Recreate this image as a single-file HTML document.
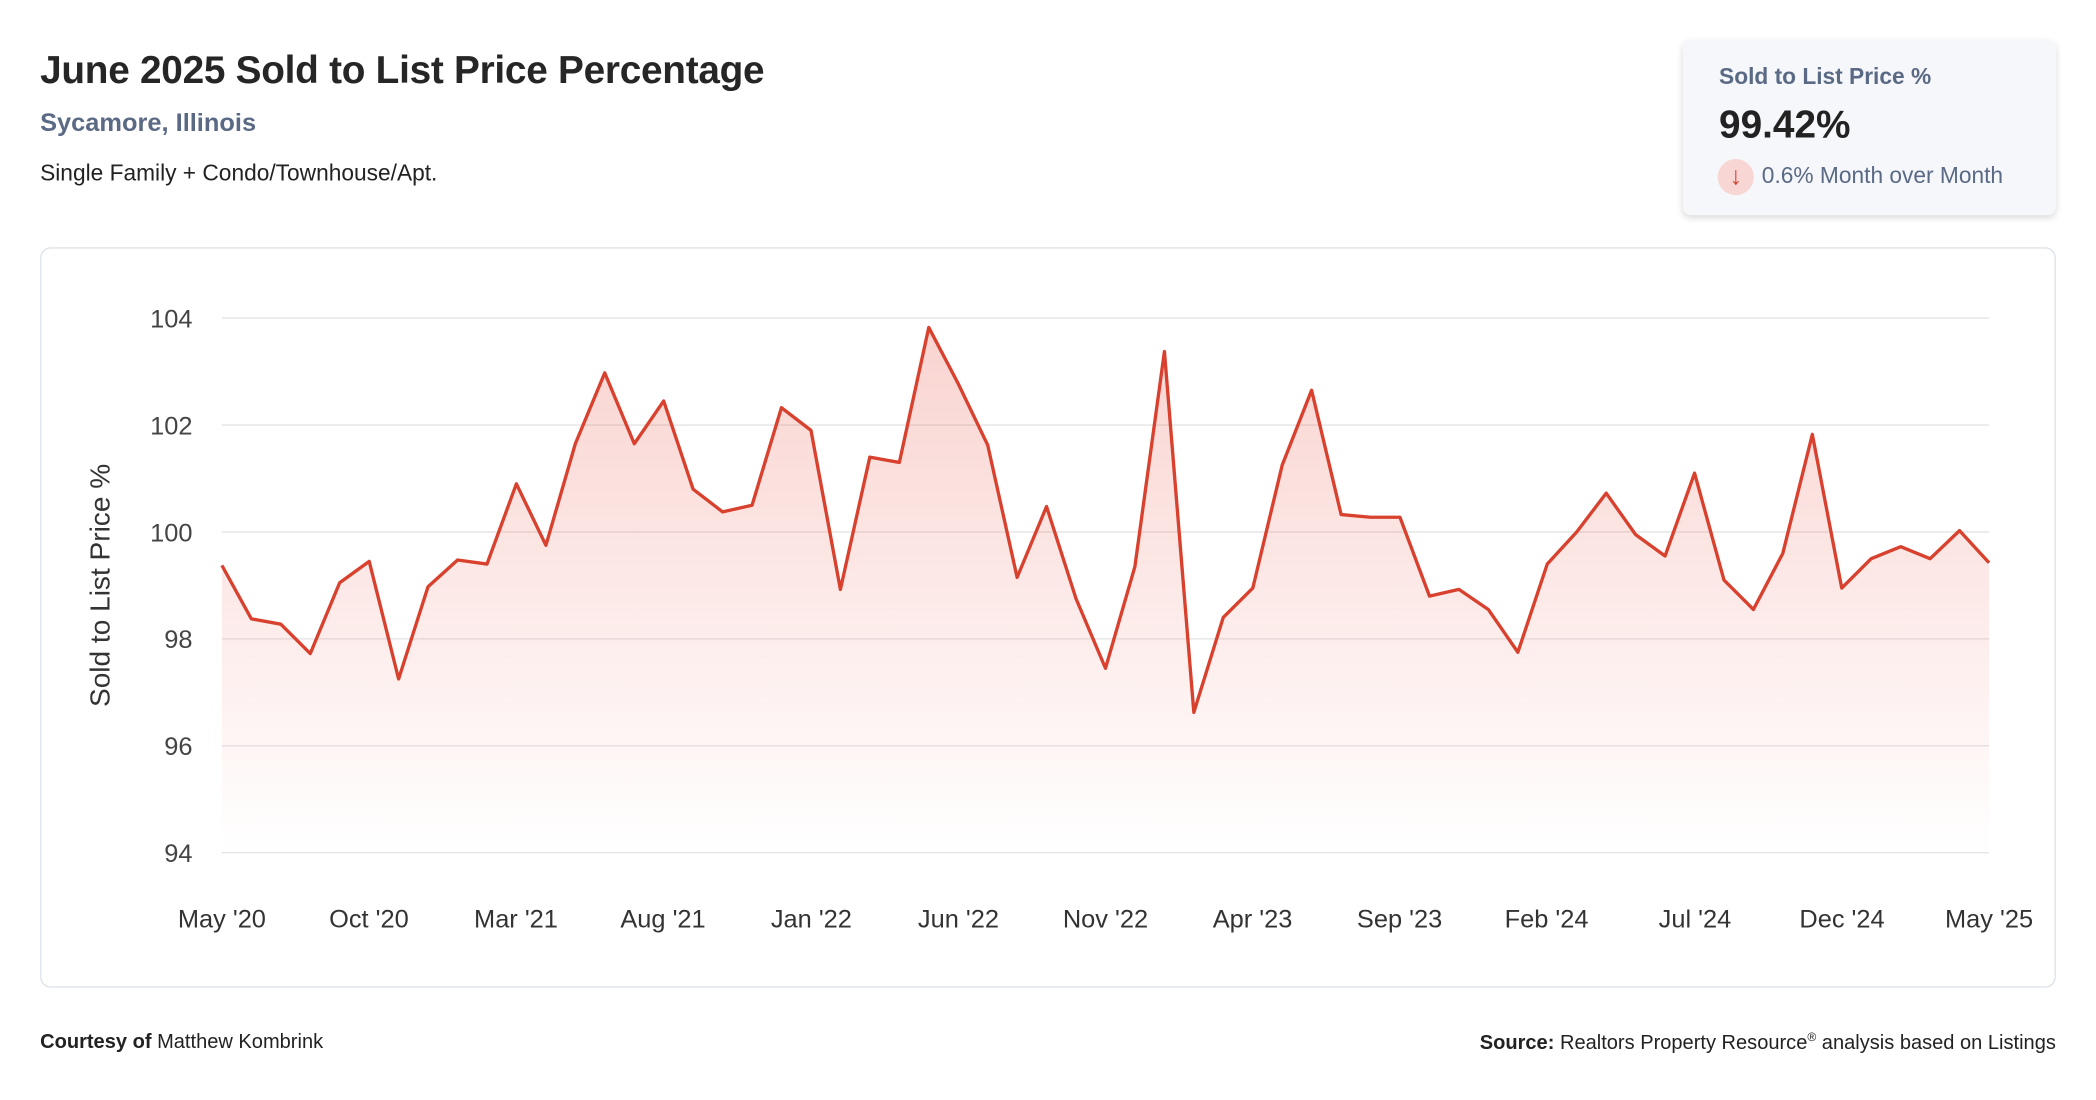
<!DOCTYPE html>
<html><head><meta charset="utf-8"><style>
html,body{margin:0;padding:0;background:#fff;width:2096px;height:1100px;overflow:hidden}
#w{position:absolute;left:0;top:0;width:1568px;height:823px;transform:scale(1.33673,1.33657);transform-origin:0 0;font-family:"Liberation Sans",sans-serif;color:#222}
.a{position:absolute;white-space:nowrap}
</style></head><body><div id="w">
<div class="a" style="left:30px;top:37px;font-size:29px;font-weight:bold;color:#262626;letter-spacing:-0.2px">June 2025 Sold to List Price Percentage</div>
<div class="a" style="left:30px;top:82px;font-size:19px;font-weight:bold;color:#5a6a85">Sycamore, Illinois</div>
<div class="a" style="left:30px;top:120px;font-size:17px;color:#222">Single Family + Condo/Townhouse/Apt.</div>
<div class="a" style="left:1259px;top:30px;width:279px;height:131px;background:#f5f7fa;border-radius:6px;box-shadow:0 2px 5px rgba(0,0,0,.15)">
<div class="a" style="left:27px;top:18px;font-size:17px;font-weight:bold;color:#5a6a85">Sold to List Price %</div>
<div class="a" style="left:27px;top:48px;font-size:29px;font-weight:bold;color:#222">99.42%</div>
<div class="a" style="left:26px;top:89px;width:27px;height:27px;border-radius:50%;background:#f7d6d3;color:#d9412f;font-size:19px;text-align:center;line-height:27px">↓</div>
<div class="a" style="left:59px;top:92px;font-size:17px;color:#5a6a85">0.6% Month over Month</div>
</div>
<div class="a" style="left:30px;top:185px;width:1506px;height:552px;border:1px solid #dde3ea;border-radius:8px"></div>
<svg class="a" style="left:0;top:0" width="1568" height="823" font-family="Liberation Sans, sans-serif">
<defs><linearGradient id="g" gradientUnits="userSpaceOnUse" x1="0" y1="245" x2="0" y2="638"><stop offset="0" stop-color="#e8584a" stop-opacity="0.26"/><stop offset="1" stop-color="#e8584a" stop-opacity="0"/></linearGradient></defs>
<g stroke="#e3e3e3" stroke-width="1">
<line x1="166" x2="1488" y1="238" y2="238"/><line x1="166" x2="1488" y1="318" y2="318"/><line x1="166" x2="1488" y1="398" y2="398"/><line x1="166" x2="1488" y1="478" y2="478"/><line x1="166" x2="1488" y1="558" y2="558"/><line x1="166" x2="1488" y1="638" y2="638"/></g>
<g font-size="19" fill="#444" text-anchor="end">
<text x="144" y="245">104</text><text x="144" y="325">102</text><text x="144" y="405">100</text><text x="144" y="485">98</text><text x="144" y="565">96</text><text x="144" y="645">94</text></g>
<text transform="translate(82,438) rotate(-90)" font-size="21" fill="#333" text-anchor="middle">Sold to List Price %</text>
<g font-size="19" fill="#333" text-anchor="middle">
<text x="166" y="694">May '20</text><text x="276" y="694">Oct '20</text><text x="386" y="694">Mar '21</text><text x="496" y="694">Aug '21</text><text x="607" y="694">Jan '22</text><text x="717" y="694">Jun '22</text><text x="827" y="694">Nov '22</text><text x="937" y="694">Apr '23</text><text x="1047" y="694">Sep '23</text><text x="1157" y="694">Feb '24</text><text x="1268" y="694">Jul '24</text><text x="1378" y="694">Dec '24</text><text x="1488" y="694">May '25</text></g>
<path id="p" fill="url(#g)" stroke="none" d=""/>
<path id="l" fill="none" stroke="#d9412f" stroke-width="2.5" stroke-linejoin="round" d=""/>
</svg>
<div class="a" style="left:30px;top:771px;font-size:15px;color:#222"><b>Courtesy of</b> Matthew Kombrink</div>
<div class="a" style="right:30px;top:771px;font-size:15px;color:#222"><b>Source:</b> Realtors Property Resource<sup style="font-size:9px">®</sup> analysis based on Listings</div>
</div>
<script>
var ys=[423,463,467,489,436,420,508,439,419,422,362,408,332,279,332,300,366,383,378,305,322,441,342,346,245,287,333,432,379,448,500,424,263,533,462,440,348,292,385,387,387,446,441,456,488,422,398,369,400,416,354,434,456,414,325,440,418,409,418,397,421];
var d="";for(var i=0;i<ys.length;i++){d+=(i?"L":"M")+(166+i*22.033).toFixed(1)+","+ys[i];}
document.getElementById("l").setAttribute("d",d);
document.getElementById("p").setAttribute("d",d+"L1488,638L166,638Z");
</script>
</body></html>
